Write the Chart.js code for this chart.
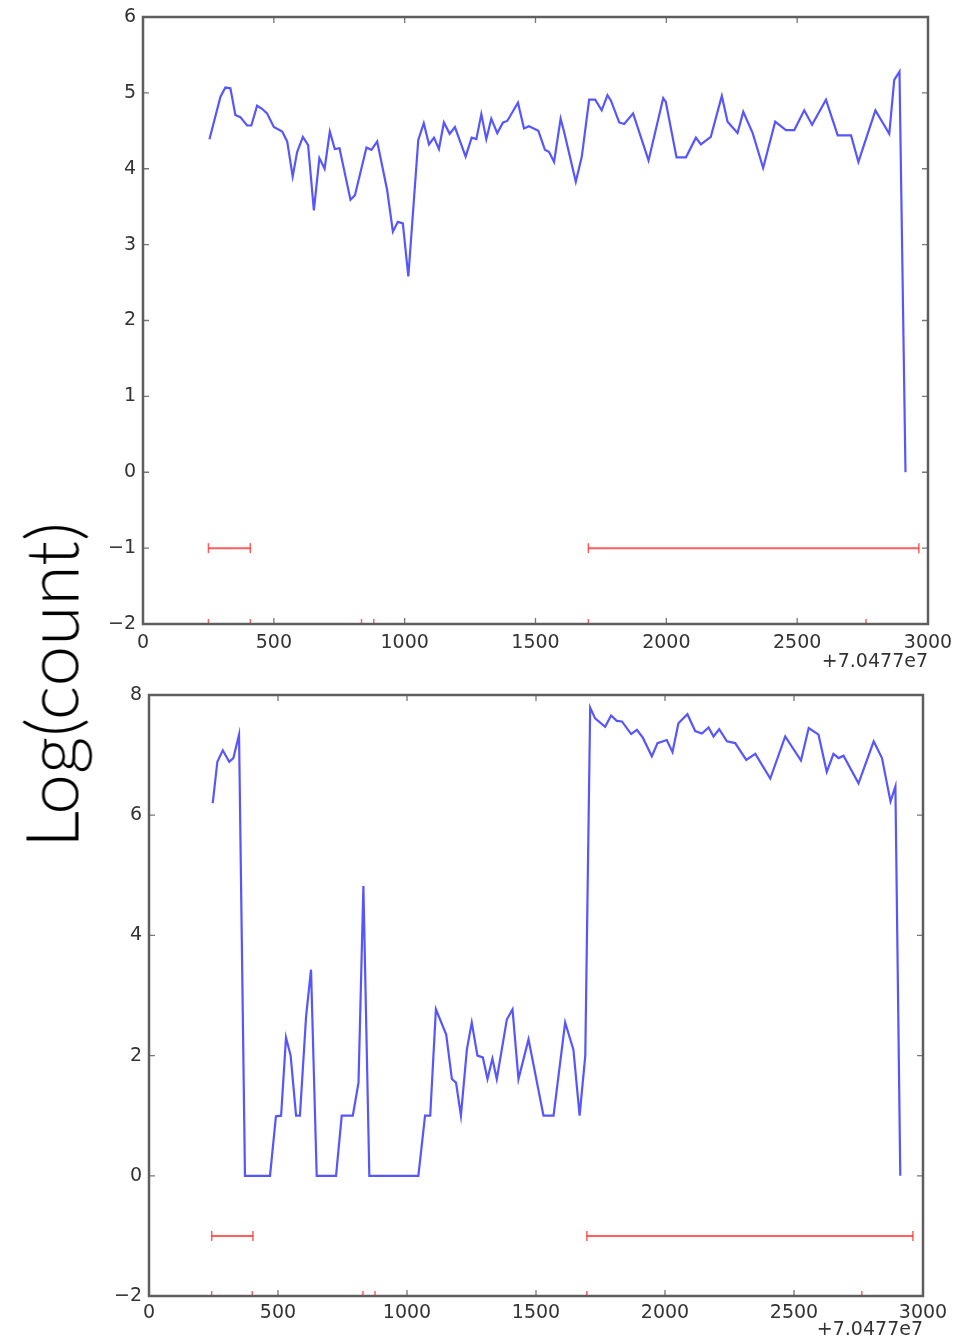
<!DOCTYPE html>
<html>
<head>
<meta charset="utf-8">
<script src="https://cdn.jsdelivr.net/npm/chart.js@4.4.1/dist/chart.umd.min.js"></script>
<style>
  html, body { margin: 0; padding: 0; background: #fff; }
  #page { position: relative; width: 954px; height: 1339px; overflow: hidden; background: #fff; }
  canvas { position: absolute; left: 0; }
  #ylabel {
    position: absolute; left: 51px; top: 685px;
    transform: translate(-50%, -50%) rotate(-90deg);
    font-family: Lato, "Liberation Sans", sans-serif; font-weight: 300;
    font-size: 73px; color: #000; white-space: nowrap; line-height: 1;
  }
</style>
</head>
<body>
<div id="page">
  <canvas id="top" width="954" height="680" style="top:0"></canvas>
  <canvas id="bottom" width="954" height="659" style="top:680px"></canvas>
  <div id="ylabel">Log(count)</div>
</div>
<script>
// === DATA (positions are offsets from 7.0477e7) ===
const topPos = [254,296,315,334,353,372,398,414,436,455,474,500,532,551,572,589,611,631,653,674,
  694,714,733,751,793,810,854,873,895,933,955,974,993,1014,1052,1073,1093,1112,1131,1150,
  1172,1192,1233,1256,1274,1293,1312,1331,1354,1376,1392,1433,1456,1475,1511,1536,1552,1571,1596,1609,
  1654,1677,1705,1728,1753,1775,1788,1820,1839,1873,1932,1988,1998,2039,2075,2113,2132,2170,2212,2234,
  2272,2294,2330,2370,2416,2457,2489,2527,2557,2610,2655,2706,2734,2799,2852,2871,2891,2914];
const topLog = [4.39,4.95,5.07,5.06,4.71,4.68,4.57,4.57,4.83,4.79,4.73,4.55,4.49,4.36,3.90,4.22,4.42,4.31,3.45,4.14,
  4.00,4.49,4.26,4.27,3.59,3.65,4.28,4.25,4.36,3.72,3.17,3.30,3.28,2.58,4.38,4.60,4.32,4.41,4.26,4.61,
  4.46,4.55,4.16,4.41,4.39,4.72,4.39,4.66,4.47,4.61,4.63,4.87,4.53,4.56,4.50,4.25,4.22,4.09,4.66,4.49,
  3.83,4.16,4.91,4.91,4.77,4.97,4.90,4.61,4.59,4.73,4.11,4.93,4.88,4.15,4.15,4.41,4.32,4.42,4.96,4.62,
  4.47,4.75,4.47,4.01,4.62,4.51,4.51,4.77,4.58,4.91,4.44,4.44,4.09,4.77,4.46,5.17,5.28,0];

const bottomPos = [247,265,286,311,327,349,372,469,492,512,531,549,570,585,609,628,650,725,747,790,
  812,831,854,1044,1070,1090,1112,1152,1174,1190,1209,1232,1251,1273,1294,1312,1331,1348,1387,1409,
  1432,1471,1529,1568,1613,1645,1669,1691,1710,1729,1768,1791,1813,1833,1869,1891,1914,1949,1971,2007,
  2029,2052,2087,2117,2143,2169,2188,2210,2240,2272,2315,2350,2408,2466,2527,2557,2595,2627,2653,2673,
  2692,2750,2809,2841,2874,2893,2912];
const bottomLog = [6.20,6.89,7.08,6.89,6.95,7.34,0,0,0.99,1.0,2.30,2.0,1.0,1.0,2.66,3.43,0,0,1.0,1.0,
  1.55,4.82,0,0,1.0,1.0,2.77,2.35,1.61,1.55,1.0,2.10,2.55,2.0,1.97,1.61,1.95,1.61,2.60,2.77,
  1.61,2.27,1.0,1.0,2.55,2.10,1.0,2.0,7.79,7.61,7.47,7.66,7.57,7.56,7.35,7.42,7.29,6.98,7.20,7.25,
  7.05,7.53,7.68,7.40,7.36,7.46,7.31,7.43,7.23,7.20,6.92,7.02,6.61,7.31,6.91,7.45,7.34,6.72,7.02,6.95,
  6.99,6.53,7.23,6.95,6.23,6.48,0];

// red interval bars: [start, end]
const topSpans = [[250, 410], [1702, 2965]];
const topAxisSpans = [[250, 410], [835, 882], [1702, 2763]];
const bottomSpans = [[243, 403], [1697, 2961]];
const bottomAxisSpans = [[243, 400], [829, 876], [1697, 2763]];
const spanLevel = -1;

const xTicks = [0, 500, 1000, 1500, 2000, 2500, 3000];
const topYRange = [-2, 6];
const bottomYRange = [-2, 8];
const offsetLabel = "+7.0477e7";
// =================

const BLUE = "rgba(30,30,255,0.75)";
const RED = "rgba(255,40,40,0.75)";
const TICK_FONT = { family: "DejaVu Sans", size: 19 };

function pts(xs, ys) { return xs.map((x, i) => ({ x, y: ys[i] })); }

function spanSets(spans, level) {
  return spans.map(s => ({
    data: [{ x: s[0], y: level }, { x: s[1], y: level }],
    showLine: true, borderColor: RED, borderWidth: 2,
    pointStyle: "line", rotation: 90, pointRadius: 5,
    pointBorderColor: RED, pointBorderWidth: 1.5
  }));
}

// matplotlib-ish frame with inward ticks and the offset text
const framePlugin = {
  id: "frame",
  afterDatasetsDraw(chart, args, opts) {
    const { ctx, chartArea: a, scales: { x, y } } = chart;
    ctx.save();
    ctx.strokeStyle = "#777";
    ctx.lineWidth = 1.3;
    ctx.beginPath();
    x.ticks.forEach(t => {
      const px = x.getPixelForValue(t.value);
      ctx.moveTo(px, a.bottom); ctx.lineTo(px, a.bottom - 6);
      ctx.moveTo(px, a.top); ctx.lineTo(px, a.top + 6);
    });
    y.ticks.forEach(t => {
      const py = y.getPixelForValue(t.value);
      ctx.moveTo(a.left, py); ctx.lineTo(a.left + 6, py);
      ctx.moveTo(a.right, py); ctx.lineTo(a.right - 6, py);
    });
    ctx.stroke();
    ctx.strokeStyle = "#5e5e5e";
    ctx.lineWidth = 2.5;
    ctx.strokeRect(a.left, a.top, a.right - a.left, a.bottom - a.top);
    ctx.fillStyle = "#333";
    ctx.font = `${TICK_FONT.size}px "${TICK_FONT.family}"`;
    ctx.textAlign = "right";
    ctx.textBaseline = "middle";
    ctx.fillText(opts.text, a.right, a.bottom + opts.dy);
    ctx.restore();
  }
};

function makeChart(id, xs, ys, spans, axisSpans, yRange, yStep, cfg) {
  const datasets = [
    { data: pts(xs, ys), showLine: true, borderColor: BLUE, borderWidth: 2.2, pointRadius: 0, tension: 0 },
    ...spanSets(spans, spanLevel),
    ...spanSets(axisSpans, yRange[0])
  ];
  return new Chart(document.getElementById(id), {
    type: "scatter",
    data: { datasets },
    options: {
      responsive: false, animation: false, devicePixelRatio: 1,
      layout: { padding: { top: cfg.padTop, right: cfg.padRight, left: 0, bottom: 0 } },
      plugins: {
        legend: { display: false }, tooltip: { enabled: false },
        frame: { text: offsetLabel, dy: cfg.offsetDy }
      },
      scales: {
        x: {
          type: "linear", min: xTicks[0], max: xTicks[xTicks.length - 1],
          afterBuildTicks: s => { s.ticks = xTicks.map(v => ({ value: v })); },
          ticks: {
            padding: cfg.xPad, color: "#333", font: TICK_FONT, autoSkip: false, maxRotation: 0,
            callback: v => String(v)
          },
          grid: { display: false, drawTicks: false }, border: { display: false },
          afterFit: s => { s.height = cfg.xHeight; s.paddingLeft = 0; s.paddingRight = 0; }
        },
        y: {
          min: yRange[0], max: yRange[1],
          ticks: {
            stepSize: yStep, padding: cfg.yPad, color: "#333", font: TICK_FONT,
            callback: v => String(v).replace("-", "\u2212")
          },
          grid: { display: false, drawTicks: false }, border: { display: false },
          afterFit: s => { s.width = cfg.yWidth; s.paddingTop = 0; s.paddingBottom = 0; }
        }
      }
    },
    plugins: [framePlugin]
  });
}

makeChart("top", topPos, topLog, topSpans, topAxisSpans, topYRange, 1,
  { padTop: 17, padRight: 26, xHeight: 56, yWidth: 143, xPad: 8, yPad: 7, offsetDy: 38 });
makeChart("bottom", bottomPos, bottomLog, bottomSpans, bottomAxisSpans, bottomYRange, 2,
  { padTop: 15, padRight: 31, xHeight: 43, yWidth: 149, xPad: 6, yPad: 7, offsetDy: 34 });
</script>
</body>
</html>
